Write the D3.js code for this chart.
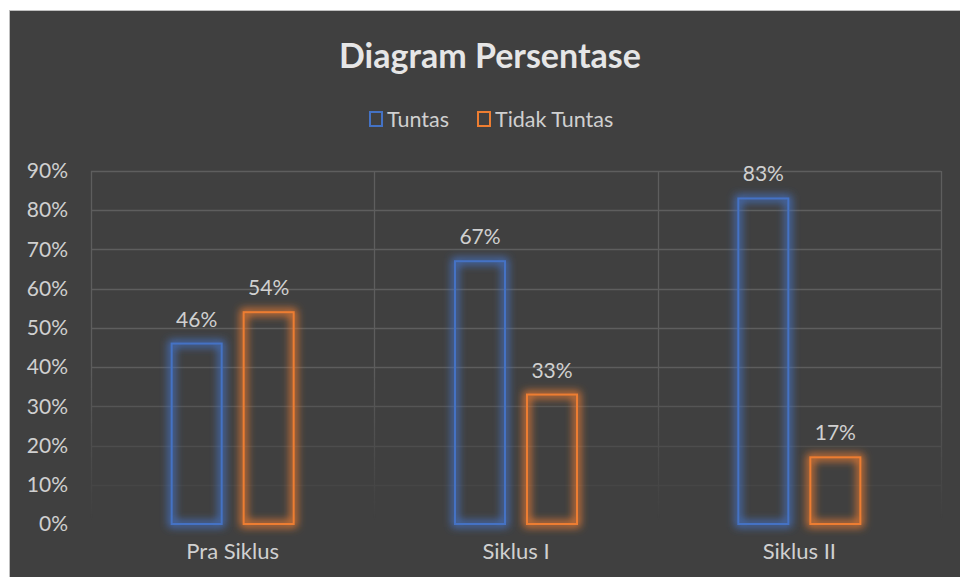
<!DOCTYPE html>
<html>
<head>
<meta charset="utf-8">
<script src="https://cdn.jsdelivr.net/npm/d3@7"></script>
<style>
  body { margin: 0; background: #ffffff; }
  svg { display: block; }
  text { font-family: Lato, "Open Sans", sans-serif; }
</style>
</head>
<body>
<div id="chart"></div>
<script>
// Data
const categories = ["Pra Siklus", "Siklus I", "Siklus II"];
const seriesNames = ["Tuntas", "Tidak Tuntas"];
const tuntas = [0.46, 0.67, 0.83];
const tidakTuntas = [0.54, 0.33, 0.17];
const yTicks = [0, 0.1, 0.2, 0.3, 0.4, 0.5, 0.6, 0.7, 0.8, 0.9];

const width = 960, height = 577;
const plot = { left: 91, right: 941, top: 171, bottom: 524 };
const colors = ["#4472C4", "#ED7D31"];

const data = categories.map((c, i) => ({ cat: c, values: [tuntas[i], tidakTuntas[i]] }));

const svg = d3.select("#chart")
  .append("svg")
  .attr("width", width)
  .attr("height", height);

const defs = svg.append("defs");

// soft glow round the bar outlines
const glow = defs.append("filter")
  .attr("id", "glow")
  .attr("x", "-50%").attr("y", "-20%")
  .attr("width", "200%").attr("height", "140%");
glow.append("feMorphology").attr("in", "SourceGraphic").attr("operator", "dilate").attr("radius", 2).attr("result", "thick");
glow.append("feGaussianBlur").attr("in", "thick").attr("stdDeviation", 4).attr("result", "blur");
glow.append("feComponentTransfer").attr("in", "blur").attr("result", "soft")
  .append("feFuncA").attr("type", "linear").attr("slope", 1);
const merge = glow.append("feMerge");
merge.append("feMergeNode").attr("in", "soft");
merge.append("feMergeNode").attr("in", "SourceGraphic");

// gridlines fade out toward the bottom of the plot
const fade = defs.append("linearGradient")
  .attr("id", "fadeGrad")
  .attr("gradientUnits", "userSpaceOnUse")
  .attr("x1", 0).attr("y1", 360).attr("x2", 0).attr("y2", 520);
fade.append("stop").attr("offset", 0).attr("stop-color", "#fff");
fade.append("stop").attr("offset", 1).attr("stop-color", "#000");
defs.append("mask").attr("id", "fadeMask")
  .append("rect")
  .attr("x", 0).attr("y", 0).attr("width", width).attr("height", height)
  .attr("fill", "url(#fadeGrad)");

// chart background
svg.append("rect")
  .attr("x", 9.5).attr("y", 10.5)
  .attr("width", width).attr("height", height)
  .attr("fill", "#404040")
  .attr("stroke", "#bfbfbf")
  .attr("stroke-width", 1);

// Scales
const x0 = d3.scaleBand()
  .domain(categories)
  .range([plot.left, plot.right])
  .padding(0);

const x1 = d3.scaleBand()
  .domain(seriesNames)
  .range([x0.bandwidth() / 2 - 62, x0.bandwidth() / 2 + 62])
  .paddingInner(0.2778)
  .paddingOuter(0);

const y = d3.scaleLinear()
  .domain([0, 0.9])
  .range([plot.bottom, plot.top]);

// Grid
const grid = svg.append("g").attr("mask", "url(#fadeMask)");
grid.selectAll("line.h")
  .data(yTicks)
  .join("line")
  .attr("class", "h")
  .attr("x1", plot.left).attr("x2", plot.right)
  .attr("y1", d => Math.round(y(d)) + 0.5)
  .attr("y2", d => Math.round(y(d)) + 0.5)
  .attr("stroke", "#5e5e5e")
  .attr("stroke-width", 1.3);

const vLines = categories.map(c => x0(c)).concat([plot.right]);
grid.selectAll("line.v")
  .data(vLines)
  .join("line")
  .attr("class", "v")
  .attr("x1", d => Math.round(d) + 0.5).attr("x2", d => Math.round(d) + 0.5)
  .attr("y1", plot.top).attr("y2", plot.bottom)
  .attr("stroke", "#5e5e5e")
  .attr("stroke-width", 1.3);

// Y axis labels
const yAxis = svg.append("g")
  .attr("transform", `translate(${plot.left - 23},0)`)
  .call(d3.axisLeft(y).tickValues(yTicks).tickFormat(d3.format(".0%")).tickSize(0));
yAxis.select(".domain").remove();
yAxis.selectAll("text")
  .attr("x", 0)
  .attr("fill", "#d0d0d0")
  .style("font-size", "21px");

// X axis labels
const xAxis = svg.append("g")
  .attr("transform", `translate(0,${plot.bottom})`)
  .call(d3.axisBottom(x0).tickSize(0));
xAxis.select(".domain").remove();
xAxis.selectAll("text")
  .attr("y", 19)
  .attr("fill", "#d0d0d0")
  .style("font-size", "22px");

// Bars
const groups = svg.selectAll("g.cat")
  .data(data)
  .join("g")
  .attr("class", "cat")
  .attr("transform", d => `translate(${x0(d.cat)},0)`);

groups.selectAll("rect")
  .data(d => d.values.map((v, i) => ({ key: seriesNames[i], v: v, i: i })))
  .join("rect")
  .attr("x", d => x1(d.key) + 1)
  .attr("y", d => y(d.v))
  .attr("width", x1.bandwidth() - 2)
  .attr("height", d => y(0) - y(d.v))
  .attr("fill", "none")
  .attr("stroke", d => colors[d.i])
  .attr("stroke-width", 2)
  .attr("filter", "url(#glow)");

groups.selectAll("text.lbl")
  .data(d => d.values.map((v, i) => ({ key: seriesNames[i], v: v, i: i })))
  .join("text")
  .attr("class", "lbl")
  .attr("x", d => x1(d.key) + x1.bandwidth() / 2)
  .attr("y", d => y(d.v) - 17)
  .attr("text-anchor", "middle")
  .attr("fill", "#d0d0d0")
  .style("font-size", "21px")
  .text(d => d3.format(".0%")(d.v));

// Title
svg.append("text")
  .attr("x", 490)
  .attr("y", 68)
  .attr("text-anchor", "middle")
  .attr("fill", "#e6e6e6")
  .style("font-size", "34px")
  .style("font-weight", "bold")
  .text("Diagram Persentase");

// Legend
const legendX = [369, 477];
const legend = svg.append("g");
seriesNames.forEach((name, i) => {
  const row = legend.append("g").attr("transform", `translate(${legendX[i]},0)`);
  row.append("rect")
    .attr("x", 1).attr("y", 112)
    .attr("width", 12).attr("height", 14)
    .attr("fill", "none")
    .attr("stroke", colors[i])
    .attr("stroke-width", 2);
  row.append("text")
    .attr("x", 18)
    .attr("y", 127)
    .attr("fill", "#d0d0d0")
    .style("font-size", "21.5px")
    .text(name);
});
</script>
</body>
</html>
